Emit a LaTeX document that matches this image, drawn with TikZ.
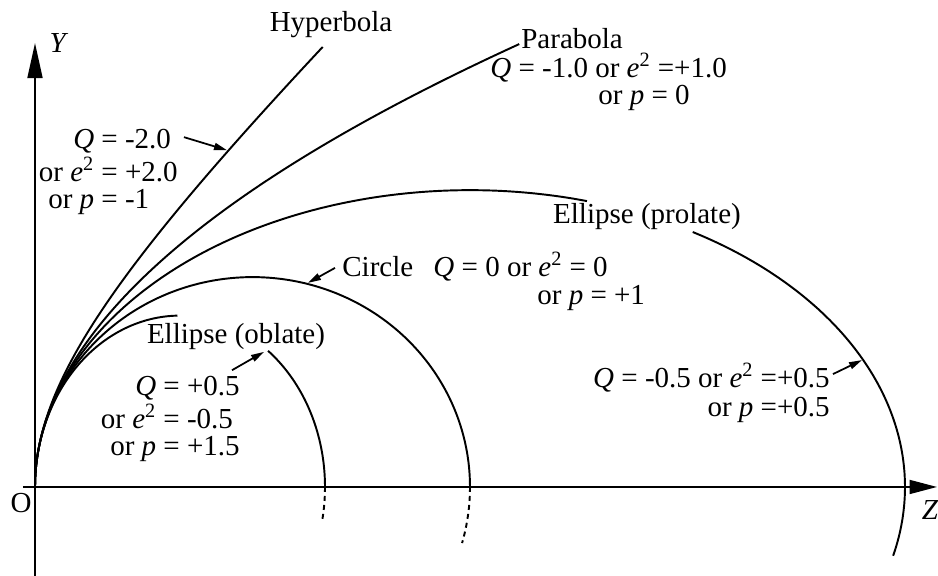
\documentclass[tikz,border=0pt]{standalone}
\usepackage{fontspec}
\setmainfont{Liberation Serif}
\usetikzlibrary{arrows.meta}

\begin{document}
\begin{tikzpicture}[y=0.965cm,
    curve/.style={line width=1.1pt},
    dashpart/.style={line width=1.1pt, dash pattern=on 0.1cm off 0.08cm},
    axis/.style={line width=1pt},
    pointer/.style={line width=1pt, -{Triangle[length=0.26cm,width=0.14cm]}},
    lbl/.style={inner sep=0pt, font=\fontsize{16.5}{15}\selectfont}]

    \useasboundingbox (-0.7,-1.845) rectangle (18.06,10.093);

    % Axes
    \coordinate (O) at (0,0);
    \coordinate (ybot) at (0,-1.845);
    \coordinate (ytop) at (0,9.20);
    \coordinate (zleft) at (-0.24,0);
    \coordinate (zright) at (18.04,0);
    \draw[axis, -{Triangle[length=0.7cm,width=0.3cm]}] (ybot) -- (ytop);
    \draw[axis, -{Triangle[length=0.55cm,width=0.28cm]}] (zleft) -- (zright);
    \node[lbl] (Ylab) at (0.48,9.20) {\textit{Y}};
    \node[lbl] (Olab) at (-0.28,-0.33) {O};
    \node[lbl] (Zlab) at (17.9,-0.48) {\textit{Z}};

    % Hyperbola, Q = -2
    \draw[curve] plot[domain=0:9.12, samples=60, smooth] ({sqrt(18.9225+\x*\x)-4.35}, \x);
    \node[lbl] (hyp) at (5.92,9.58) {Hyperbola};
    \node[lbl, anchor=east] (hypval) at (2.86,6.51)
        {\begin{tabular}{@{}r@{ = }l@{}} \textit{Q} & -2.0\\ or \textit{e}\textsuperscript{2} & +2.0\\ or \textit{p} & -1\end{tabular}};
    \coordinate (hyptail) at (2.98,7.25);
    \coordinate (hyptip) at (3.84,6.98);
    \draw[pointer] (hyptail) -- (hyptip);

    % Parabola, Q = -1
    \draw[curve] plot[domain=0:9.18, samples=60, smooth] ({\x*\x/8.7}, \x);
    \node[lbl, anchor=base west] (par) at (9.72,9.08) {Parabola};
    \node[lbl, anchor=base west] (parval) at (9.1,8.49) {\textit{Q} = -1.0 or \textit{e}\textsuperscript{2} =+1.0};
    \node[lbl, anchor=base west] (parvalb) at (11.26,7.92) {or \textit{p} = 0};

    % Ellipse (prolate), Q = -0.5
    \draw[curve] plot[domain=180:74.4, samples=60, smooth] ({8.7+8.7*cos(\x)}, {6.152*sin(\x)});
    \draw[curve] plot[domain=59.2:-13.4, samples=50, smooth] ({8.7+8.7*cos(\x)}, {6.152*sin(\x)});
    \node[lbl] (pro) at (12.24,5.60) {Ellipse (prolate)};
    \node[lbl, anchor=base east] (proval) at (15.9,2.052) {\textit{Q} = -0.5 or \textit{e}\textsuperscript{2} =+0.5};
    \node[lbl, anchor=base east] (provalb) at (15.9,1.47) {or \textit{p} =+0.5};
    \coordinate (protail) at (15.96,2.34);
    \coordinate (protip) at (16.54,2.63);
    \draw[pointer] (protail) -- (protip);

    % Circle, Q = 0
    \draw[curve] plot[domain=180:0, samples=60, smooth] ({4.35+4.35*cos(\x)}, {4.35*sin(\x)});
    \draw[dashpart] plot[domain=0:-15.5, samples=10, smooth] ({4.35+4.35*cos(\x)}, {4.35*sin(\x)});
    \node[lbl, anchor=base west] (circ) at (6.14,4.36) {Circle\hspace{0.7em}\textit{Q} = 0 or \textit{e}\textsuperscript{2} = 0};
    \node[lbl, anchor=base west] (circb) at (10.04,3.78) {or \textit{p} = +1};
    \coordinate (circtail) at (6.0,4.54);
    \coordinate (circtip) at (5.46,4.23);
    \draw[pointer] (circtail) -- (circtip);

    % Ellipse (oblate), Q = +0.5
    \draw[curve] plot[domain=180:91, samples=50, smooth] ({2.9+2.9*cos(\x)}, {3.552*sin(\x)});
    \draw[curve] plot[domain=52.6:0, samples=40, smooth] ({2.9+2.9*cos(\x)}, {3.552*sin(\x)});
    \draw[dashpart] plot[domain=0:-12, samples=10, smooth] ({2.9+2.9*cos(\x)}, {3.552*sin(\x)});
    \node[lbl] (obl) at (4.02,3.11) {Ellipse (oblate)};
    \node[lbl, anchor=east] (oblval) at (4.1,1.39)
        {\begin{tabular}{@{}r@{ = }l@{}} \textit{Q} & +0.5\\ or \textit{e}\textsuperscript{2} & -0.5\\ or \textit{p} & +1.5\end{tabular}};
    \coordinate (obltail) at (3.94,2.42);
    \coordinate (obltip) at (4.58,2.80);
    \draw[pointer] (obltail) -- (obltip);

\end{tikzpicture}
\end{document}
